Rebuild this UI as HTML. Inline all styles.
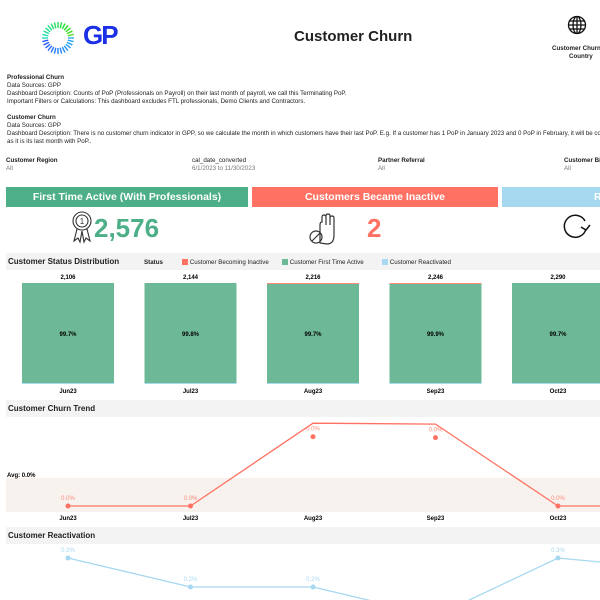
<!DOCTYPE html>
<html><head><meta charset="utf-8">
<style>
body{margin:0;width:600px;height:600px;overflow:hidden;background:#fff;font-family:"Liberation Sans",sans-serif;position:relative;color:#222}
.a{position:absolute;white-space:nowrap}
.s{font-size:6.2px;line-height:8px}
.b{font-weight:bold}
.hdr{position:absolute;height:20px;color:#fff;font-weight:bold;font-size:10.5px;line-height:20px;text-align:center;box-sizing:border-box;overflow:hidden}
.sec{position:absolute;left:6px;width:594px;height:17px;background:#f3f3f3;font-size:8px;font-weight:bold;line-height:17px;padding-left:2px;box-sizing:border-box}
</style></head><body>
<svg class="a" style="left:40px;top:18px" width="36" height="40" viewBox="0 0 34 40">
<g id="rays" stroke-width="1.4"></g></svg>
<div class="a b" style="left:83px;top:20px;font-size:26px;color:#1a2fe6;letter-spacing:-2px">GP</div>
<div class="a b" style="left:294px;top:28px;font-size:15px">Customer Churn</div>
<svg class="a" style="left:567px;top:15px" width="20" height="20" viewBox="0 0 20 20"><g fill="none" stroke="#111" stroke-width="1.3"><circle cx="10" cy="10" r="8.5"/><ellipse cx="10" cy="10" rx="4" ry="8.5"/><line x1="10" y1="1.5" x2="10" y2="18.5"/><line x1="1.5" y1="10" x2="18.5" y2="10"/><line x1="3" y1="6" x2="17" y2="6"/><line x1="3" y1="14" x2="17" y2="14"/></g></svg>
<div class="a s b" style="left:552px;top:45px;text-align:center">Customer Churn by<br>Country</div>

<div class="a s" style="left:7px;top:74px">
<b>Professional Churn</b><br>Data Sources: GPP<br>Dashboard Description: Counts of PoP (Professionals on Payroll) on their last month of payroll, we call this Terminating PoP.<br>Important Filters or Calculations: This dashboard excludes FTL professionals, Demo Clients and Contractors.<br><br>
<b>Customer Churn</b><br>Data Sources: GPP<br>Dashboard Description: There is no customer churn indicator in GPP, so we calculate the month in which customers have their last PoP. E.g. If a customer has 1 PoP in January 2023 and 0 PoP in February, it will be counted<br>as it is its last month with PoP..</div>

<div class="a s" style="left:6px;top:157px"><b>Customer Region</b><br><span style="color:#777">All</span></div>
<div class="a s" style="left:192px;top:157px">cal_date_converted<br><span style="color:#777">6/1/2023 to 11/30/2023</span></div>
<div class="a s" style="left:378px;top:157px"><b>Partner Referral</b><br><span style="color:#777">All</span></div>
<div class="a s" style="left:564px;top:157px"><b>Customer Billing</b><br><span style="color:#777">All</span></div>

<div class="hdr" style="left:6px;top:187px;width:242px;background:#4caf87">First Time Active (With Professionals)</div>
<div class="hdr" style="left:252px;top:187px;width:246px;background:#ff7263">Customers Became Inactive</div>
<div class="hdr" style="left:502px;top:187px;width:98px;background:#a6d8f0;text-align:left;padding-left:92px">Re</div>

<svg class="a" style="left:69px;top:210px" width="26" height="34" viewBox="0 0 22 34"><g fill="none" stroke="#333" stroke-width="1.1"><circle cx="11" cy="11" r="9"/><circle cx="11" cy="11" r="6"/><path d="M6 19 L3 31 L7 28 L9 32 L11 21 M16 19 L19 31 L15 28 L13 32 L11 21"/></g><text x="11" y="14" font-size="8" text-anchor="middle" fill="#333">1</text></svg>
<div class="a b" style="left:94px;top:213px;font-size:26px;color:#4caf87">2,576</div>
<svg class="a" style="left:308px;top:213px" width="30" height="34" viewBox="0 0 30 34"><g fill="none" stroke="#333" stroke-width="1.2"><path d="M12 30 L12 12 Q12 9 14 9 L14 4 Q14 2 16 2 Q18 2 18 4 L18 12 L18 3 Q18 1 20 1 Q22 1 22 3 L22 12 L22 5 Q22 3 24 3 Q26 3 26 5 L26 22 Q26 31 19 31 Z"/><circle cx="8" cy="24" r="6"/><line x1="4" y1="28" x2="12" y2="20"/></g></svg>
<div class="a b" style="left:367px;top:213px;font-size:26px;color:#ff7263">2</div>
<svg class="a" style="left:563px;top:213px" width="28" height="26" viewBox="0 0 28 26"><path d="M22 8 A11 11 0 1 0 23 16" fill="none" stroke="#111" stroke-width="1.5"/><path d="M18 14 L23 17 L27 12" fill="none" stroke="#111" stroke-width="1.5"/></svg>

<div class="sec" style="top:253px">Customer Status Distribution</div>
<div class="a s b" style="left:144px;top:259px">Status</div>
<div class="a s" style="left:182px;top:259px"><span style="display:inline-block;width:6px;height:6px;background:#ff7263;vertical-align:-1px"></span> Customer Becoming Inactive</div>
<div class="a s" style="left:282px;top:259px"><span style="display:inline-block;width:6px;height:6px;background:#6db897;vertical-align:-1px"></span> Customer First Time Active</div>
<div class="a s" style="left:382px;top:259px"><span style="display:inline-block;width:6px;height:6px;background:#a6d8f0;vertical-align:-1px"></span> Customer Reactivated</div>

<div class="sec" style="top:400px">Customer Churn Trend</div>
<div class="sec" style="top:527px">Customer Reactivation</div>

<svg id="charts" class="a" style="left:0;top:0" width="600" height="600"></svg>

<script>
const months=["Jun23","Jul23","Aug23","Sep23","Oct23"];
const totals=[2106,2144,2216,2246,2290];
const activePct=[99.7,99.8,99.7,99.9,99.7];
const inactiveShare=[0.0,0.0,0.3,0.3,0.0];
const churnLine=[0,0,0.92,0.91,0,0];
const churnDots=[0,0,0.77,0.76,0];
const churnLabels=["0.0%","0.0%","0.0%","0.0%","0.0%"];
const reactVals=[0.3,0.2,0.2,0.1,0.3,0.26];
const reactLabels=["0.3%","0.2%","0.2%","","0.3%"];

const NS="http://www.w3.org/2000/svg";
const svg=document.getElementById('charts');
function mk(t,a,p){const e=document.createElementNS(NS,t);for(const k in a)e.setAttribute(k,a[k]);(p||svg).appendChild(e);return e;}
const xC=i=>68+i*122.5;

const rays=document.getElementById('rays');
for(let i=0;i<28;i++){const an=i/28*2*Math.PI;const c=i<14?`hsl(${200+i*2},90%,55%)`:`hsl(${170-(i-14)*5},75%,50%)`;
const l=mk('line',{x1:17+Math.cos(an)*10,y1:20+Math.sin(an)*10,x2:17+Math.cos(an)*16,y2:20+Math.sin(an)*16,stroke:c},rays);

}

const barTop=283,barBot=384,bh=barBot-barTop,bw=92;
months.forEach((m,i)=>{
 const x=xC(i)-bw/2;
 const r=mk('rect',{x:x,y:barTop,width:bw,height:bh,fill:'#6db897'});
 
 
 if(inactiveShare[i]>0){const t=mk('rect',{x:x,y:barTop,width:bw,height:Math.max(1,inactiveShare[i]*3),fill:'#ff8a7a'});
 
 }
 const bl=mk('rect',{x:x,y:barBot-1,width:bw,height:1,fill:'#a6d8f0'});
 
 
 const tl=mk('text',{x:xC(i),y:barTop-4,'font-size':6,'font-weight':'bold','text-anchor':'middle'});tl.textContent=totals[i].toLocaleString('en-US');
 
 
 const pl=mk('text',{x:xC(i),y:336,'font-size':6,'font-weight':'bold','text-anchor':'middle'});pl.textContent=activePct[i].toFixed(1)+'%';
 
 
 const ml=mk('text',{x:xC(i),y:393,'font-size':6,'font-weight':'bold','text-anchor':'middle'});ml.textContent=m;
 
 
});

const band=mk('rect',{x:6,y:478,width:594,height:34,fill:'#f8f2ee'});


const avg=mk('text',{x:7,y:477,'font-size':6,'font-weight':'bold'});avg.textContent='Avg: 0.0%';


const cy=v=>506-v*90;
const cl=mk('polyline',{points:churnLine.map((v,i)=>xC(i)+','+cy(v)).join(' '),fill:'none',stroke:'#ff7263','stroke-width':1.3});


churnDots.forEach((v,i)=>{
 const d=mk('circle',{cx:xC(i),cy:cy(v),r:2.5,fill:'#ff7263'});
 
 
 const t=mk('text',{x:xC(i),y:cy(v)-6,'font-size':6,fill:'#ff8a7a','text-anchor':'middle'});t.textContent=churnLabels[i];
 
 
 const ml=mk('text',{x:xC(i),y:520,'font-size':6,'font-weight':'bold','text-anchor':'middle'});ml.textContent=months[i];
 
 
});

const ry=v=>558+(0.3-v)*290;
const rl=mk('polyline',{points:reactVals.map((v,i)=>xC(i)+','+ry(v)).join(' '),fill:'none',stroke:'#a6d8f0','stroke-width':1.3});


reactLabels.forEach((lab,i)=>{
 const d=mk('circle',{cx:xC(i),cy:ry(reactVals[i]),r:2.5,fill:'#a6d8f0'});
 
 
 const t=mk('text',{x:xC(i),y:ry(reactVals[i])-6,'font-size':6,fill:'#a6d8f0','text-anchor':'middle'});t.textContent=lab;
 
 
});
</script>
</body></html>
